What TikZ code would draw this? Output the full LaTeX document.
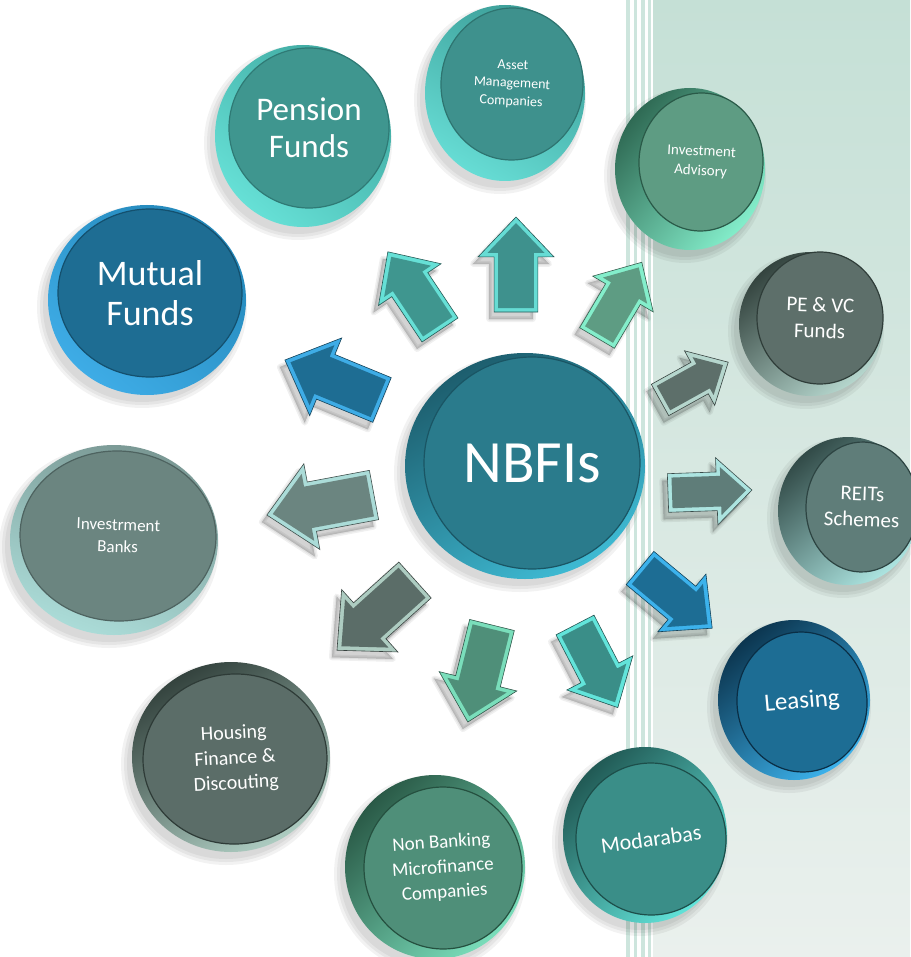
\documentclass[tikz,border=0pt]{standalone}
\usepackage{fontspec}
\setmainfont{Carlito}
\usetikzlibrary{shapes.geometric}
% disc colours: F face, D face edge, R rim dark side, L rim light side
\definecolor{penF}{HTML}{3F968F}\definecolor{penD}{HTML}{2F7A75}\definecolor{penR}{HTML}{3FA8A0}\definecolor{penL}{HTML}{66E0D6}
\definecolor{assF}{HTML}{3E918D}\definecolor{assD}{HTML}{2E7470}\definecolor{assR}{HTML}{3C9E98}\definecolor{assL}{HTML}{66DCD4}
\definecolor{advF}{HTML}{5E9C83}\definecolor{advD}{HTML}{2A5A48}\definecolor{advR}{HTML}{2F6A54}\definecolor{advL}{HTML}{84EECB}
\definecolor{pevF}{HTML}{5D6F6A}\definecolor{pevD}{HTML}{2F3D39}\definecolor{pevR}{HTML}{34443F}\definecolor{pevL}{HTML}{B5D6CD}
\definecolor{reiF}{HTML}{5F7D79}\definecolor{reiD}{HTML}{2D4442}\definecolor{reiR}{HTML}{324B48}\definecolor{reiL}{HTML}{ACE4E0}
\definecolor{leaF}{HTML}{1D6D94}\definecolor{leaD}{HTML}{0A2E45}\definecolor{leaR}{HTML}{0C3650}\definecolor{leaL}{HTML}{3CB2EC}
\definecolor{modF}{HTML}{3A8E88}\definecolor{modD}{HTML}{1D4E4A}\definecolor{modR}{HTML}{215A55}\definecolor{modL}{HTML}{62E4DA}
\definecolor{nbmF}{HTML}{4F8F79}\definecolor{nbmD}{HTML}{25503F}\definecolor{nbmR}{HTML}{2A5A47}\definecolor{nbmL}{HTML}{7ADEBB}
\definecolor{houF}{HTML}{5B6D68}\definecolor{houD}{HTML}{2E3B37}\definecolor{houR}{HTML}{34433E}\definecolor{houL}{HTML}{ADCCC1}
\definecolor{ibkF}{HTML}{6B8580}\definecolor{ibkD}{HTML}{4E6360}\definecolor{ibkR}{HTML}{7A9894}\definecolor{ibkL}{HTML}{ABDCD8}
\definecolor{mutF}{HTML}{1E6D93}\definecolor{mutD}{HTML}{14506E}\definecolor{mutR}{HTML}{2488BA}\definecolor{mutL}{HTML}{3EACE6}
\definecolor{nbfF}{HTML}{2A7B8C}\definecolor{nbfD}{HTML}{1A5564}\definecolor{nbfR}{HTML}{1D5E6E}\definecolor{nbfL}{HTML}{3EBAD3}
\definecolor{stripe}{HTML}{CDE5DD}
\definecolor{panelTop}{HTML}{C5E0D6}
\definecolor{panelMid}{HTML}{F4F7F6}
\definecolor{panelBot}{HTML}{EAF0ED}
\tikzset{
  face/.style={ellipse, inner sep=0pt, text=white, align=center, line width=1.2pt},
}
% soft shadow under a disc: cx, cy, rx, ry
\newcommand\dshadow[4]{%
  \foreach \e in {6,3,0}{\fill[black,opacity=0.05] (#1-5,#2+7) ellipse [x radius=#3+\e, y radius=#4+\e];}}
% rim of a coin: cx, cy, rx, ry, dark, light, angle
\newcommand\rim[7]{%
  \shade[top color=#5, bottom color=#6, shading angle=#7] (#1,#2) ellipse [x radius=#3, y radius=#4];}
% block arrow: tail x, tail y, angle, length, main, light
\newcommand\barrow[6]{%
  \pgfmathsetmacro\La{#4}%
  \pgfmathsetmacro\Lb{0.58*#4}%
  \pgfmathsetmacro\Ls{0.23*#4}%
  \pgfmathsetmacro\Lh{0.40*#4}%
  \pgfmathsetmacro\Ia{\La-6}%
  \pgfmathsetmacro\Ib{\Lb+4}%
  \pgfmathsetmacro\Is{\Ls-4}%
  \pgfmathsetmacro\Ih{\Lh-9.5}%
  \begin{scope}[shift={(#1-5,#2+7)},rotate=#3]
    \foreach \w in {6,3,0.5}{\filldraw[black,opacity=0.06,line width=\w pt,line join=round]
      (0,-\Ls) -- (\Lb,-\Ls) -- (\Lb,-\Lh) -- (\La,0) -- (\Lb,\Lh) -- (\Lb,\Ls) -- (0,\Ls) -- cycle;}
  \end{scope}
  \begin{scope}[shift={(#1,#2)},rotate=#3]
    \filldraw[fill=#6, draw=#5!60!black, line width=0.6pt, line join=miter]
      (0,-\Ls) -- (\Lb,-\Ls) -- (\Lb,-\Lh) -- (\La,0) -- (\Lb,\Lh) -- (\Lb,\Ls) -- (0,\Ls) -- cycle;
    \fill[#5] (4,-\Is) -- (\Ib,-\Is) -- (\Ib,-\Ih) -- (\Ia,0) -- (\Ib,\Ih) -- (\Ib,\Is) -- (4,\Is) -- cycle;
  \end{scope}}
\begin{document}
\begin{tikzpicture}[x=1pt,y=-1pt]
\useasboundingbox (0,0) rectangle (910,957);
\fill[white] (0,0) rectangle (910,957);
% background stripes and panel
\foreach \a/\b in {626/630,634/637,641/645,648/651} \fill[stripe] (\a,0) rectangle (\b,957);
\shade[top color=panelTop, middle color=panelMid, bottom color=panelBot] (653,0) rectangle (910,957);

% arrows
\barrow{440}{330}{123.7}{94}{penF}{penL}
\barrow{516}{312}{90}{95}{assF}{assL}
\barrow{597}{338}{59.4}{88}{advF}{advL}
\barrow{660}{400}{29}{78}{pevF}{pevL}
\barrow{668}{493}{2}{84}{reiF}{reiL}
\barrow{640}{568}{-39.8}{94}{leaF}{leaL}
\barrow{575}{625}{-62.6}{93}{modF}{modL}
\barrow{492}{625}{-104}{100}{nbmF}{nbmL}
\barrow{415}{580}{-138}{105}{houF}{houL}
\barrow{374}{495}{190.6}{109}{ibkF}{ibkL}
\barrow{382}{400}{157.6}{105}{mutF}{mutL}

% Pension Funds
\dshadow{303}{136}{88}{91}
\rim{303}{136}{88}{91}{penR}{penL}{-40}
\node[face, fill=penF, draw=penD, minimum width=160pt, minimum height=160pt,
  font=\fontsize{33}{37}\selectfont] (pension) at (309,128) {Pension\\Funds};
% Asset Management Companies
\dshadow{505}{93}{80}{88}
\rim{505}{93}{80}{88}{assR}{assL}{-30}
\node[face, fill=assF, draw=assD, minimum width=142pt, minimum height=152pt, rotate=-3,
  font=\fontsize{14}{18}\selectfont] (asset) at (512,84) {Asset\\Management\\Companies};
% Investment Advisory
\dshadow{690}{169}{75}{81}
\rim{690}{169}{75}{81}{advR}{advL}{50}
\node[face, fill=advF, draw=advD, minimum width=124pt, minimum height=138pt, rotate=-3,
  font=\fontsize{15}{19.5}\selectfont] (advisory) at (701,162) {Investment\\Advisory};
% PE & VC Funds
\dshadow{811}{324}{72}{72}
\rim{811}{324}{72}{72}{pevR}{pevL}{40}
\node[face, fill=pevF, draw=pevD, minimum width=126pt, minimum height=132pt, rotate=-2,
  font=\fontsize{21}{26}\selectfont] (pevc) at (820,318) {PE \& VC\\Funds};
% REITs Schemes
\dshadow{848}{511}{70}{74}
\rim{848}{511}{70}{74}{reiR}{reiL}{40}
\node[face, fill=reiF, draw=reiD, minimum width=112pt, minimum height=130pt, rotate=-2,
  font=\fontsize{21}{26}\selectfont] (reits) at (862,507) {REITs\\Schemes};
% Leasing
\dshadow{794}{700}{76}{80}
\rim{794}{700}{76}{80}{leaR}{leaL}{40}
\node[face, fill=leaF, draw=leaD, minimum width=130pt, minimum height=140pt, rotate=5,
  font=\fontsize{25}{30}\selectfont] (leasing) at (802,702) {Leasing};
% Modarabas
\dshadow{645}{835}{82}{88}
\rim{645}{835}{82}{88}{modR}{modL}{45}
\node[face, fill=modF, draw=modD, minimum width=150pt, minimum height=152pt, rotate=8,
  font=\fontsize{22}{26}\selectfont] (modarabas) at (651,839) {Modarabas};
% Non Banking Microfinance Companies
\dshadow{435}{867}{90}{92}
\rim{435}{867}{90}{92}{nbmR}{nbmL}{45}
\node[face, fill=nbmF, draw=nbmD, minimum width=158pt, minimum height=162pt, rotate=4,
  font=\fontsize{19}{25}\selectfont] (nbmc) at (443,868) {Non Banking\\Microfinance\\Companies};
% Housing Finance & Discouting
\dshadow{231}{757}{99}{95}
\rim{231}{757}{99}{95}{houR}{houL}{30}
\node[face, fill=houF, draw=houD, minimum width=184pt, minimum height=170pt, rotate=3,
  font=\fontsize{20}{25}\selectfont] (housing) at (235,759) {Housing\\Finance \&\\Discouting};
% Investrment Banks
\dshadow{114}{540}{104}{95}
\rim{114}{540}{104}{95}{ibkR}{ibkL}{-20}
\node[face, fill=ibkF, draw=ibkD, minimum width=196pt, minimum height=170pt, rotate=-2,
  font=\fontsize{17}{22}\selectfont] (invbanks) at (118,536) {Investrment\\Banks};
% Mutual Funds
\dshadow{147}{300}{99}{95}
\rim{147}{300}{99}{95}{mutR}{mutL}{-40}
\node[face, fill=mutF, draw=mutD, minimum width=184pt, minimum height=168pt,
  font=\fontsize{36}{40}\selectfont] (mutual) at (150,293) {Mutual\\Funds};
% NBFIs
\dshadow{525}{466}{120}{113}
\rim{525}{466}{120}{113}{nbfR}{nbfL}{30}
\node[face, fill=nbfF, draw=nbfD, minimum width=216pt, minimum height=212pt,
  font=\fontsize{60}{66}\selectfont] (nbfis) at (532,463) {NBFIs};
\end{tikzpicture}
\end{document}
